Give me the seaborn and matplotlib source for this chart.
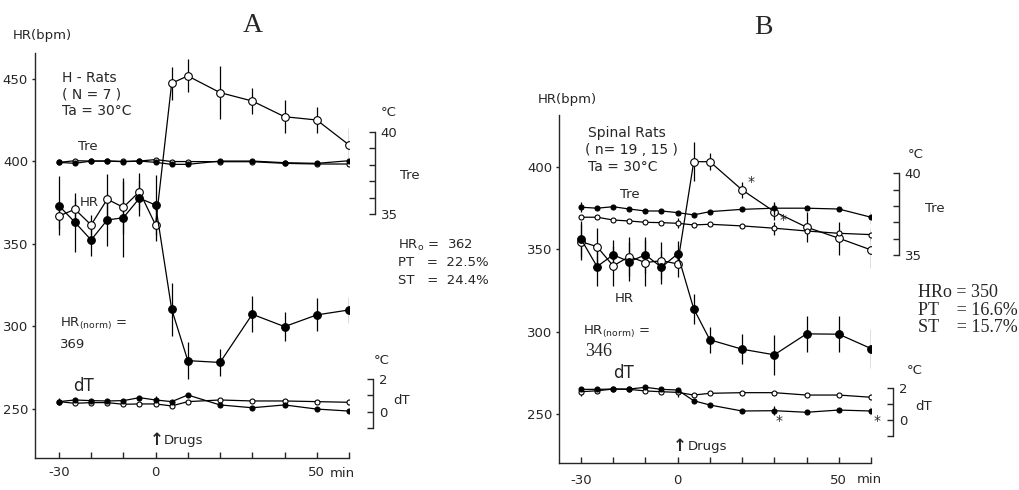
import matplotlib
matplotlib.use("Agg")
import matplotlib.pyplot as plt
import seaborn as sns

sns.set_style("ticks")
plt.rcParams['font.family'] = ['DejaVu Sans']

# tempos (min) em relacao a injecao das drogas
tempos = [-30, -25, -20, -15, -10, -5, 0, 5, 10, 20, 30, 40, 50, 60]

# painel A - H-Rats
a_hr_open = [366.8, 370.9, 361.4, 377.0, 372.1, 381.6, 361.4, 447.3, 451.7, 441.6, 436.5, 427.0, 425.0, 409.9]
a_hr_open_err = [8, 6, 6, 15, 16, 11, 10, 10, 10, 16, 8, 10, 8, 10]
a_hr_fill = [373.1, 363.0, 352.3, 364.4, 365.8, 377.6, 373.5, 310.3, 279.2, 278.1, 307.3, 299.8, 306.9, 309.9]
a_hr_fill_err = [18, 18, 10, 16, 24, 11, 18, 16, 11, 8, 11, 9, 10, 8]
a_tre_open = [38.15, 38.25, 38.23, 38.23, 38.21, 38.23, 38.32, 38.20, 38.20, 38.19, 38.19, 38.09, 38.05, 38.05]
a_tre_fill = [38.15, 38.09, 38.23, 38.23, 38.19, 38.23, 38.15, 38.03, 38.03, 38.23, 38.23, 38.13, 38.09, 38.25]
a_dt_open = [0.61, 0.51, 0.55, 0.55, 0.45, 0.47, 0.47, 0.35, 0.61, 0.71, 0.65, 0.65, 0.61, 0.57]
a_dt_open_err = [0, 0, 0, 0, 0, 0, 0, 0, 0, 0, 0, 0, 0, 0.2]
a_dt_fill = [0.61, 0.71, 0.67, 0.65, 0.67, 0.85, 0.71, 0.61, 1.01, 0.41, 0.24, 0.41, 0.16, 0.04]
a_dt_fill_err = [0.2, 0, 0, 0, 0, 0, 0.25, 0, 0, 0, 0, 0, 0, 0]

# painel B - Spinal Rats
b_hr_open = [354.5, 351.5, 339.8, 345.5, 341.8, 343.0, 341.0, 403.0, 403.0, 385.9, 372.7, 363.3, 356.6, 349.5]
b_hr_open_err = [11, 11, 12, 12, 14, 11, 8, 12, 5, 5, 5, 9, 10, 11]
b_hr_fill = [356.2, 339.4, 346.5, 342.4, 346.5, 339.0, 347.1, 313.8, 295.0, 289.3, 285.9, 298.6, 298.4, 289.7]
b_hr_fill_err = [11, 12, 9, 12, 11, 10, 8, 9, 8, 9, 12, 11, 11, 12]
b_tre_open = [37.32, 37.32, 37.15, 37.09, 37.01, 36.99, 36.95, 36.85, 36.89, 36.79, 36.65, 36.48, 36.34, 36.26]
b_tre_open_err = [0, 0, 0, 0, 0, 0, 0.3, 0, 0, 0, 0.4, 0, 0, 0.4]
b_tre_fill = [37.93, 37.87, 37.96, 37.82, 37.70, 37.70, 37.60, 37.46, 37.66, 37.80, 37.87, 37.87, 37.82, 37.32]
b_tre_fill_err = [0.3, 0, 0, 0, 0, 0, 0, 0, 0, 0, 0.4, 0, 0, 0.4]
b_dt_open = [1.79, 1.85, 1.96, 1.94, 1.84, 1.79, 1.75, 1.58, 1.69, 1.73, 1.73, 1.58, 1.58, 1.44]
b_dt_open_err = [0.3, 0, 0, 0, 0, 0, 0.3, 0, 0, 0, 0, 0, 0, 0.3]
b_dt_fill = [1.94, 1.94, 1.96, 1.96, 2.07, 1.94, 1.90, 1.22, 0.95, 0.57, 0.59, 0.49, 0.63, 0.57]
b_dt_fill_err = [0, 0, 0, 0, 0, 0, 0, 0, 0, 0, 0.3, 0, 0, 0.3]

W, H = 1020, 490
fig = plt.figure(figsize=(10.2, 4.9), dpi=100)


def txt(px, py, s, **kw):
    # texto em coordenadas de pixel da figura
    kw.setdefault('fontsize', 9.5)
    kw.setdefault('va', 'center')
    kw.setdefault('ha', 'left')
    fig.text(px / W, 1 - py / H, s, **kw)


def serie(ax, y, err, filled, ms):
    face = 'black' if filled else 'white'
    if err is not None and any(e > 0 for e in err):
        ax.errorbar(tempos, y, yerr=err, fmt='none', ecolor='black', elinewidth=0.9, capsize=0, zorder=1)
    sns.lineplot(x=tempos, y=y, ax=ax, color='black', lw=0.9, marker='o', markersize=ms,
                 markerfacecolor=face, markeredgecolor='black', markeredgewidth=0.8, zorder=3)


def eixo_temp(ax, ylim, pos, bounds, ticks, labels):
    t = ax.twinx()
    t.set_ylim(*ylim)
    for s in ['top', 'left', 'bottom']:
        t.spines[s].set_visible(False)
    t.spines['right'].set_position(('axes', pos))
    t.spines['right'].set_bounds(*bounds)
    t.spines['right'].set_linewidth(1)
    t.set_yticks(ticks)
    t.set_yticklabels(labels)
    t.tick_params(axis='y', direction='in', length=4, width=1, pad=4, labelsize=9.5)
    return t


def painel(rect, xlim, ylim, yticks, hr, tre, dt, tre_ax, dt_ax, xpad):
    ax = fig.add_axes(rect)
    ax.set_xlim(*xlim)
    ax.set_ylim(*ylim)
    sns.despine(ax=ax)
    ax.spines['left'].set_linewidth(1)
    ax.spines['bottom'].set_linewidth(1)
    ax.spines['bottom'].set_bounds(xlim[0], 60)
    ax.set_xticks([-30, -20, -10, 0, 10, 20, 30, 40, 50, 60])
    ax.set_xticklabels(['-30', '', '', '0', '', '', '', '', '50', ''])
    ax.tick_params(axis='x', direction='in', length=4, width=1, pad=xpad, labelsize=9.5)
    ax.set_yticks(yticks)
    ax.tick_params(axis='y', direction='out', length=2, width=1, pad=3, labelsize=9.5)

    # HR
    serie(ax, hr[0], hr[1], False, 5.5)
    serie(ax, hr[2], hr[3], True, 5.5)

    # Tre
    t = eixo_temp(ax, *tre_ax)
    serie(t, tre[0], tre[1], False, 3.6)
    serie(t, tre[2], tre[3], True, 3.6)

    # dT
    d = eixo_temp(ax, *dt_ax)
    serie(d, dt[0], dt[1], False, 3.6)
    serie(d, dt[2], dt[3], True, 3.6)
    return ax, t, d


# ---------------- painel A ----------------
axA, tA, dA = painel(
    [35 / W, 1 - 458 / H, 314 / W, 405 / H], (-37.4, 60), (220.2, 465.6), [250, 300, 350, 400, 450],
    (a_hr_open, a_hr_open_err, a_hr_fill, a_hr_fill_err),
    (a_tre_open, None, a_tre_fill, None),
    (a_dt_open, a_dt_open_err, a_dt_fill, a_dt_fill_err),
    ((20.12, 44.82), 1.083, (35, 40), [35, 36, 37, 38, 39, 40], ['35', '', '', '', '', '40']),
    ((-2.8, 21.7), 1.078, (-1, 2), [-1, 0, 1, 2], ['', '0', '', '2']),
    6)

txt(253, 25, 'A', fontsize=20, ha='center', family='Liberation Serif')
txt(13, 36, 'HR(bpm)')
txt(62, 78, 'H - Rats', fontsize=10)
txt(62, 95, '( N = 7 )', fontsize=10)
txt(62, 111, 'Ta = 30°C', fontsize=10)
txt(78, 146, 'Tre')
txt(80, 202, 'HR')
txt(381, 113, '°C')
txt(400, 175, 'Tre')
txt(398, 245, 'HR$_\\mathrm{o}$ =  362')
txt(398, 263, 'PT   =  22.5%')
txt(398, 280, 'ST   =  24.4%')
txt(60, 324, 'HR$_\\mathrm{(norm)}$ =')
txt(60, 344, '369')
txt(73, 386, 'dT', fontsize=12)
txt(374, 360, '°C')
txt(393, 400, 'dT')
txt(150, 440, '\u2191', fontsize=12, fontweight='bold')
txt(164, 440, 'Drugs')
txt(330, 473, 'min')

# ---------------- painel B ----------------
axB, tB, dB = painel(
    [559 / W, 1 - 463 / H, 312 / W, 348 / H], (-36.8, 60), (220.3, 431.3), [250, 300, 350, 400],
    (b_hr_open, b_hr_open_err, b_hr_fill, b_hr_fill_err),
    (b_tre_open, b_tre_open_err, b_tre_fill, b_tre_fill_err),
    (b_dt_open, b_dt_open_err, b_dt_fill, b_dt_fill_err),
    ((22.34, 43.55), 1.09, (35, 40), [35, 36, 37, 38, 39, 40], ['35', '', '', '', '', '40']),
    ((-2.72, 19.3), 1.072, (-1, 2), [-1, 0, 1, 2], ['', '0', '', '2']),
    8)

# asteriscos (diferencas significativas)
axB.annotate('*', (tempos[9], b_hr_open[9]), xytext=(4, 3), textcoords='offset points', fontsize=10)
axB.annotate('*', (tempos[10], b_hr_open[10]), xytext=(4, -9), textcoords='offset points', fontsize=10)
dB.annotate('*', (tempos[10], b_dt_fill[10]), xytext=(1, -10), textcoords='offset points', fontsize=10)
dB.annotate('*', (tempos[13], b_dt_fill[13]), xytext=(2, -10), textcoords='offset points', fontsize=10)

txt(763, 28, 'B', fontsize=20, ha='center', family='Liberation Serif')
txt(538, 100, 'HR(bpm)')
txt(588, 133, 'Spinal Rats', fontsize=10)
txt(585, 150, '( n= 19 , 15 )', fontsize=10)
txt(588, 167, 'Ta = 30°C', fontsize=10)
txt(620, 194, 'Tre')
txt(615, 298, 'HR')
txt(583, 332, 'HR$_\\mathrm{(norm)}$ =')
txt(585, 352, '346', fontsize=13, family='Liberation Serif')
txt(613, 373, 'dT', fontsize=12)
txt(908, 155, '°C')
txt(925, 208, 'Tre')
txt(918, 292, 'HRo = 350', fontsize=13, family='Liberation Serif')
txt(918, 310, 'PT    = 16.6%', fontsize=13, family='Liberation Serif')
txt(918, 327, 'ST    = 15.7%', fontsize=13, family='Liberation Serif')
txt(907, 370, '°C')
txt(915, 407, 'dT')
txt(673, 446, '\u2191', fontsize=12, fontweight='bold')
txt(688, 446, 'Drugs')
txt(857, 479, 'min')

fig.savefig('out.png', dpi=100)
